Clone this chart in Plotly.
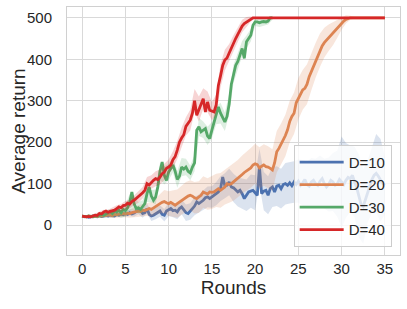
import numpy as np
import plotly.graph_objects as go

# Rounds grid (0 .. 35, quarter-round resolution)
rounds = np.round(np.arange(0, 35.001, 0.25), 2)

d10 = [22, 20, 21, 19, 20, 22, 21, 20,
       23, 21, 22, 24, 22, 25, 23, 22,
       26, 24, 27, 25, 28, 26, 30, 27,
       29, 32, 36, 35, 28, 30, 40, 26,
       22, 24, 28, 32, 34, 26, 24, 34,
       38, 40, 35, 36, 32, 40, 44, 36,
       30, 28, 33, 40, 46, 56, 52, 55,
       60, 66, 68, 64, 68, 72, 76, 80,
       88, 116, 95, 96, 104, 92, 90, 84,
       80, 84, 76, 64, 72, 80, 82, 84,
       78, 72, 140, 76, 82, 84, 72, 88,
       92, 80, 94, 96, 88, 98, 100, 96,
       102, 95, 104, 98, 106, 96, 102, 110,
       98, 94, 104, 108, 100, 96, 106, 112,
       100, 92, 98, 108, 104, 96, 100, 110,
       104, 98, 108, 115, 112, 120, 104, 90,
       70, 50, 45, 62, 80, 96, 110, 120,
       125, 118, 108, 100, 96]

d20 = [22, 21, 20, 22, 21, 20, 22, 21,
       23, 22, 24, 23, 25, 24, 23, 26,
       25, 27, 26, 28, 27, 29, 28, 30,
       31, 32, 34, 33, 36, 35, 38, 40,
       38, 42, 45, 48, 52, 55, 57, 54,
       52, 55, 52, 48, 52, 56, 60, 64,
       68, 70, 72, 70, 66, 64, 68, 72,
       80, 78, 75, 80, 79, 80, 84, 88,
       84, 88, 92, 100, 98, 100, 104, 108,
       112, 118, 122, 127, 130, 135, 138, 145,
       148, 146, 138, 142, 145, 141, 140, 137,
       133, 150, 177, 185, 195, 208, 216, 230,
       250, 262, 270, 295, 305, 313, 326, 330,
       340, 358, 370, 383, 398, 408, 422, 432,
       440, 446, 452, 458, 462, 468, 474, 481,
       486, 492, 496, 499, 500, 500, 500, 500,
       500, 500, 500, 500, 500, 500, 500, 500,
       500, 500, 500, 500, 500]

d30 = [22, 21, 20, 22, 21, 20, 23, 22,
       24, 26, 24, 27, 30, 33, 28, 34,
       32, 36, 30, 38, 35, 42, 55, 80,
       52, 40, 42, 38, 45, 52, 76, 92,
       70, 60, 68, 92, 130, 152, 120, 108,
       128, 135, 145, 130, 110, 118, 140, 135,
       140, 130, 126, 140, 150, 229, 237, 225,
       230, 233, 215, 209, 229, 250, 265, 285,
       270, 258, 249, 262, 292, 340, 365, 385,
       395, 410, 426, 402, 442, 450, 458, 482,
       490, 490, 488, 490, 491, 490, 492, 500,
       500]

d40 = [22, 21, 20, 21, 20, 22, 24, 23,
       28, 27, 32, 34, 31, 33, 35, 36,
       40, 44, 42, 47, 48, 53, 51, 57,
       60, 64, 68, 72, 78, 84, 100, 97,
       104, 108, 112, 110, 116, 124, 128, 137,
       140, 145, 158, 165, 181, 200, 210, 218,
       238, 245, 253, 270, 300, 265, 280, 292,
       305, 273, 297, 277, 275, 273, 290, 337,
       360, 385, 398, 403, 415, 428, 438, 450,
       460, 472, 480, 486, 490, 494, 497, 500,
       500, 500, 500, 500, 500, 500, 500, 500,
       500, 500, 500, 500, 500, 500, 500, 500,
       500, 500, 500, 500, 500, 500, 500, 500,
       500, 500, 500, 500, 500, 500, 500, 500,
       500, 500, 500, 500, 500, 500, 500, 500,
       500, 500, 500, 500, 500, 500, 500, 500,
       500, 500, 500, 500, 500, 500, 500, 500,
       500, 500, 500, 500, 500]

# Confidence band half-widths (half-round resolution)
d10_hw = [3, 3, 3, 4, 4, 5, 5, 6, 6,
          7, 8, 8, 9, 10, 10, 12, 12, 14, 14,
          15, 16, 16, 18, 18, 20, 20, 22, 22, 24,
          25, 26, 28, 30, 30, 32, 34, 35, 36, 38,
          40, 42, 44, 46, 46, 48, 48, 48, 50, 50,
          50, 52, 55, 55, 58, 60, 62, 60, 65, 70,
          80, 110, 90, 80, 85, 100, 90, 75, 80, 95, 100, 70]
d20_hw = [3, 3, 4, 4, 5, 5, 6, 6, 7,
          8, 8, 10, 12, 14, 15, 16, 18, 20, 24,
          28, 30, 32, 34, 35, 36, 36, 38, 38, 38,
          38, 40, 40, 42, 42, 44, 45, 45, 46, 46,
          48, 48, 50, 50, 50, 50, 50, 50, 50, 50,
          50, 50, 48, 48, 45, 42, 40, 36, 32, 28,
          22, 15, 10, 5, 2, 0, 0, 0, 0, 0, 0, 0]
d30_hw = [3, 3, 4, 5, 6, 7, 8, 9, 10,
          12, 14, 20, 15, 14, 15, 20, 15, 18, 20,
          22, 20, 18, 20, 22, 20, 18, 20, 22, 20,
          22, 20, 22, 25, 22, 25, 22, 20, 18, 15,
          15, 10, 10, 10, 8, 5]
d40_hw = [3, 3, 4, 4, 5, 5, 6, 7, 8,
          9, 10, 10, 12, 14, 14, 16, 16, 18, 18,
          20, 18, 20, 22, 25, 22, 25, 28, 30, 25,
          25, 22, 25, 28, 25, 22, 20, 18, 15, 12,
          6, 2, 0, 0, 0, 0, 0, 0, 0, 0,
          0, 0, 0, 0, 0, 0, 0, 0, 0, 0,
          0, 0, 0, 0, 0, 0, 0, 0, 0, 0, 0, 0]

names = ["D=10", "D=20", "D=30", "D=40"]
colors = ["#4c72b0", "#dd8452", "#55a868", "#d62728"]
band_colors = ["rgba(76,114,176,0.2)", "rgba(221,132,82,0.2)",
               "rgba(85,168,104,0.2)", "rgba(214,39,40,0.2)"]

fig = go.Figure()
for name, ys, hw, col, bcol in zip(names, [d10, d20, d30, d40],
                                   [d10_hw, d20_hw, d30_hw, d40_hw],
                                   colors, band_colors):
    ys = np.array(ys, float)
    hw = np.array(hw, float)
    xs = rounds[:len(ys)]
    xb = xs[::2]
    yb = ys[::2]
    up = yb + hw
    lo = yb - hw
    fig.add_trace(go.Scatter(
        x=np.concatenate([xb, xb[::-1]]),
        y=np.concatenate([up, lo[::-1]]),
        fill="toself", fillcolor=bcol, line=dict(width=0),
        mode="lines", hoverinfo="skip", showlegend=False))
    fig.add_trace(go.Scatter(x=xs, y=ys, mode="lines", name=name,
                             line=dict(color=col, width=2.8)))

font_family = "Liberation Sans, Arial, sans-serif"
axis_common = dict(
    showgrid=True, gridcolor="#d9d9d9", gridwidth=1,
    showline=True, linecolor="#d0d0d0", linewidth=1, mirror=True,
    zeroline=False, tickcolor="rgba(0,0,0,0)",
    automargin=False,
    tickfont=dict(size=15, color="#262626", family=font_family),
)

fig.update_layout(
    width=407, height=309,
    margin=dict(l=67, r=7, t=7, b=54),
    paper_bgcolor="white", plot_bgcolor="white",
    font=dict(family=font_family, color="#262626"),
    xaxis=dict(range=[-1.75, 36.75], tickvals=[0, 5, 10, 15, 20, 25, 30, 35],
               ticks="",
               title=dict(text="Rounds", font=dict(size=19), standoff=4),
               **axis_common),
    yaxis=dict(range=[-72, 526], tickvals=[0, 100, 200, 300, 400, 500],
               ticks="outside", ticklen=11),
    legend=dict(x=0.975, y=0.033, xanchor="right", yanchor="bottom",
                bgcolor="rgba(255,255,255,0.8)", bordercolor="#cccccc",
                borderwidth=1, itemwidth=44,
                font=dict(size=15, color="#262626")),
    annotations=[dict(text="Average return", textangle=-90,
                      xref="paper", yref="paper",
                      x=-0.148, y=0.5, xanchor="center", yanchor="middle",
                      showarrow=False, font=dict(size=19, color="#262626"))],
)
fig.update_yaxes(**axis_common)

fig.write_html("out.html",
               config={"displayModeBar": False},
               post_script="document.body.style.margin='0';"
                           "document.body.style.padding='0';")
